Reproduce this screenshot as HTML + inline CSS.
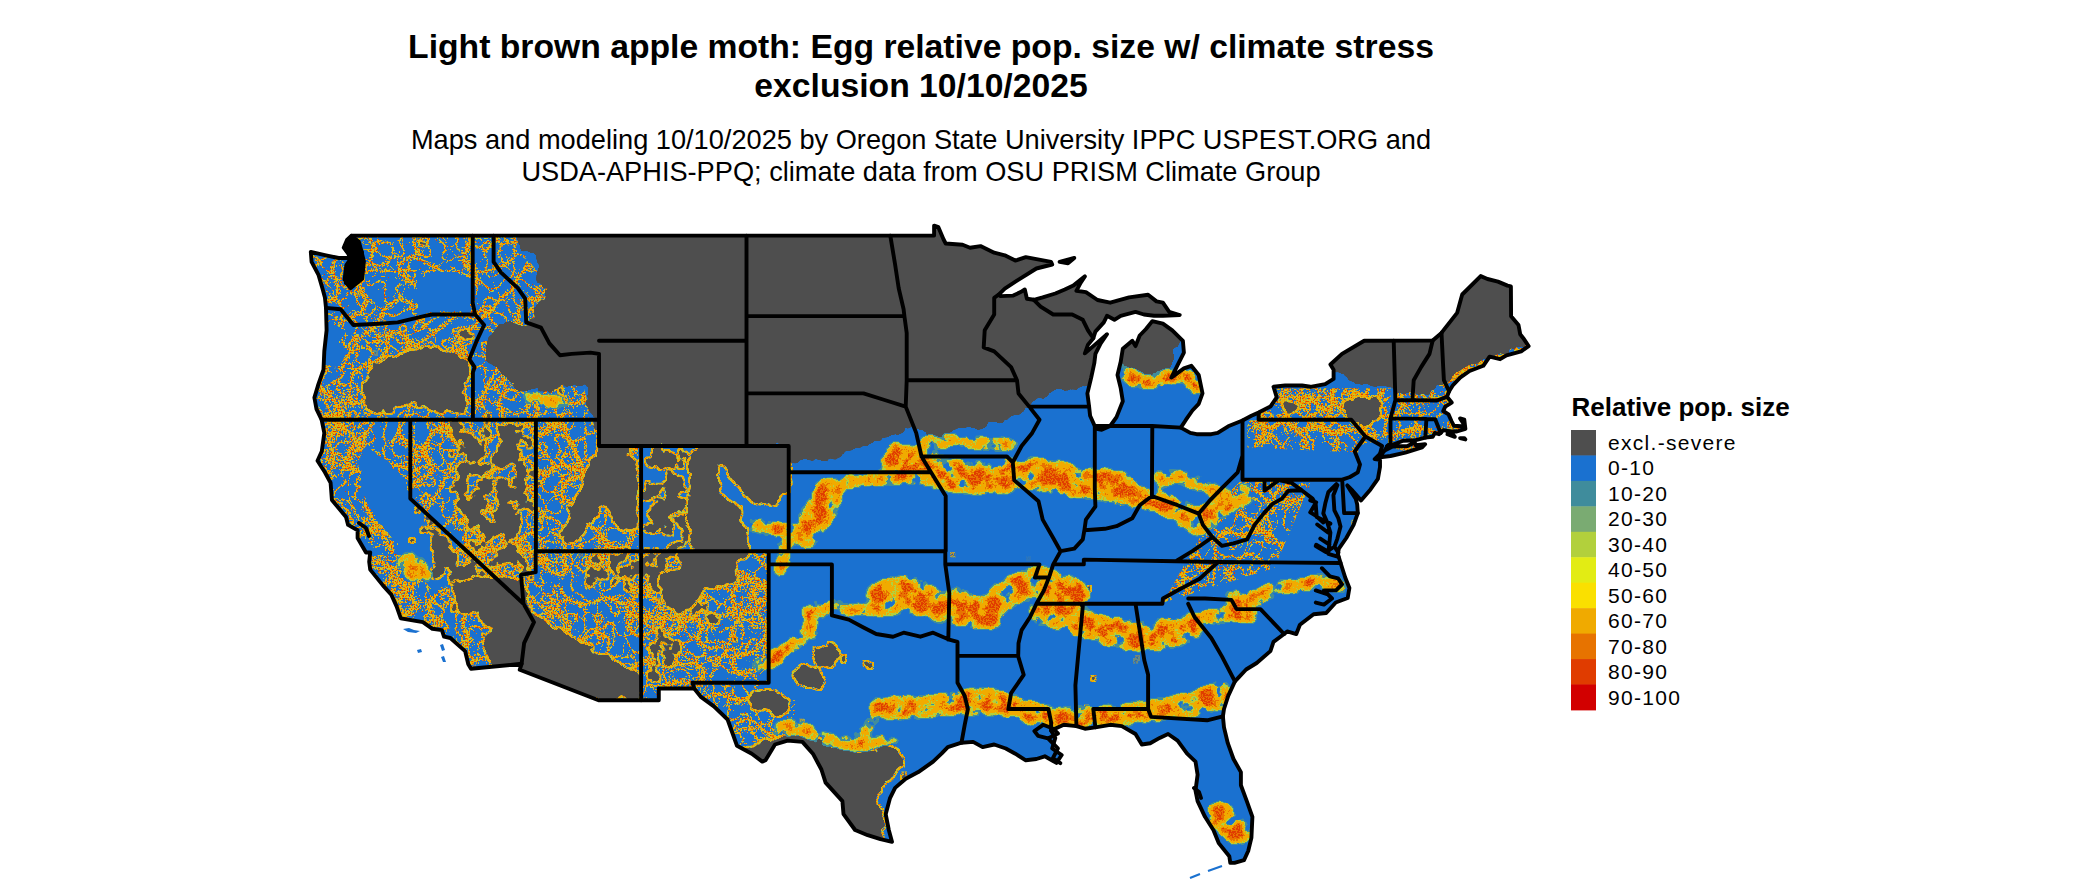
<!DOCTYPE html>
<html><head><meta charset="utf-8"><style>
html,body{margin:0;padding:0;background:#fff;width:2100px;height:892px;overflow:hidden}
svg{position:absolute;left:0;top:0}
text{font-family:"Liberation Sans",sans-serif;fill:#000}
.t{font-weight:bold;font-size:33.7px}
.s{font-size:27.2px}
.lt{font-weight:bold;font-size:26px}
.lg{font-size:21px;letter-spacing:1.3px}
</style></head><body>
<svg width="2100" height="892" viewBox="0 0 2100 892">
<text x="921" y="57.6" text-anchor="middle" class="t">Light brown apple moth: Egg relative pop. size w/ climate stress</text>
<text x="921" y="96.7" text-anchor="middle" class="t">exclusion 10/10/2025</text>
<text x="921" y="149" text-anchor="middle" class="s">Maps and modeling 10/10/2025 by Oregon State University IPPC USPEST.ORG and</text>
<text x="921" y="181" text-anchor="middle" class="s">USDA-APHIS-PPQ; climate data from OSU PRISM Climate Group</text>
<text x="1571.5" y="416.2" class="lt">Relative pop. size</text>
<rect x="1571" y="430.00" width="25" height="25.9" fill="#4e4e4e"/><text x="1608" y="450.0" class="lg">excl.-severe</text><rect x="1571" y="455.45" width="25" height="25.9" fill="#1a71d0"/><text x="1608" y="475.4" class="lg">0-10</text><rect x="1571" y="480.90" width="25" height="25.9" fill="#3f8c9c"/><text x="1608" y="500.9" class="lg">10-20</text><rect x="1571" y="506.35" width="25" height="25.9" fill="#7aab72"/><text x="1608" y="526.4" class="lg">20-30</text><rect x="1571" y="531.80" width="25" height="25.9" fill="#b2d03c"/><text x="1608" y="551.8" class="lg">30-40</text><rect x="1571" y="557.25" width="25" height="25.9" fill="#e2ec14"/><text x="1608" y="577.2" class="lg">40-50</text><rect x="1571" y="582.70" width="25" height="25.9" fill="#fae000"/><text x="1608" y="602.7" class="lg">50-60</text><rect x="1571" y="608.15" width="25" height="25.9" fill="#f0aa00"/><text x="1608" y="628.1" class="lg">60-70</text><rect x="1571" y="633.60" width="25" height="25.9" fill="#e77300"/><text x="1608" y="653.6" class="lg">70-80</text><rect x="1571" y="659.05" width="25" height="25.9" fill="#e03c00"/><text x="1608" y="679.0" class="lg">80-90</text><rect x="1571" y="684.50" width="25" height="25.9" fill="#d20000"/><text x="1608" y="704.5" class="lg">90-100</text>
<defs>
<clipPath id="land"><path d="M352.1 235.6L934.1 235.6L934.1 225.6L938.4 227.2L943.6 239.5L945.7 243.5L962.6 244.8L970.0 247.7L980.5 246.1L994.2 252.7L1004.8 255.3L1015.3 260.6L1025.8 257.2L1051.1 261.9L1052.2 264.5L1036.4 268.5L1017.4 280.3L1004.8 288.7L998.4 294.8L1000.5 296.1L1013.2 295.6L1020.6 292.1L1024.8 289.5L1026.9 298.7L1033.8 299.8L1042.7 297.4L1055.3 293.5L1064.8 289.5L1073.3 285.6L1084.9 276.4L1080.6 282.9L1076.4 290.8L1085.9 292.1L1097.5 300.0L1110.2 302.7L1129.1 297.4L1148.1 294.8L1156.5 301.4L1162.9 302.7L1169.2 311.9L1179.7 315.0L1162.9 315.8L1154.0 315.8L1143.9 314.5L1135.5 311.9L1120.7 315.8L1114.4 319.8L1107.0 315.8L1103.8 322.4L1095.4 331.6L1093.3 338.2L1088.0 344.7L1084.9 353.4L1093.3 346.1L1107.0 334.2L1100.7 343.4L1095.4 353.9L1094.3 363.2L1091.2 377.6L1087.4 393.4L1089.1 406.6L1090.1 415.8L1094.3 425.0L1096.5 428.9L1101.7 429.7L1110.2 426.0L1116.5 417.1L1122.8 401.3L1120.7 388.1L1117.5 375.0L1120.7 361.8L1122.8 348.7L1132.3 340.8L1135.5 346.1L1139.7 335.5L1146.0 329.0L1152.3 321.1L1162.9 323.7L1172.3 330.3L1182.9 340.8L1183.9 352.6L1176.6 367.1L1171.3 377.6L1183.9 368.4L1191.3 365.8L1198.7 375.0L1202.5 393.4L1198.7 403.9L1192.4 410.5L1186.0 419.7L1180.8 427.6L1190.3 432.9L1196.6 434.2L1211.3 434.2L1217.7 432.9L1228.2 426.3L1242.5 420.5L1251.4 415.8L1258.6 412.6L1270.4 406.6L1276.7 397.3L1273.5 386.8L1285.1 385.5L1302.0 385.5L1310.4 386.8L1325.2 384.2L1333.6 378.9L1333.6 369.7L1330.4 364.5L1342.0 353.9L1364.2 340.8L1432.7 340.5L1441.5 332.9L1442.4 331.6L1457.1 312.9L1462.2 294.5L1480.7 276.1L1487.5 279.0L1498.0 281.6L1507.5 285.6L1510.9 286.4L1511.1 316.3L1518.5 325.0L1520.2 334.2L1523.3 338.2L1528.6 346.1L1521.2 351.3L1506.5 355.3L1500.1 359.2L1489.6 356.6L1483.3 365.8L1469.6 371.0L1460.1 377.6L1452.7 385.5L1449.1 391.3L1447.0 396.8L1451.7 402.6L1445.3 406.6L1443.2 411.0L1448.5 414.4L1451.7 421.5L1453.8 425.7L1461.1 426.3L1464.3 425.0L1460.1 418.4L1464.3 419.7L1465.4 428.9L1456.9 431.5L1450.6 431.5L1443.2 430.2L1440.7 432.9L1439.0 434.2L1434.8 432.9L1432.7 436.8L1425.3 437.6L1415.8 440.2L1403.2 440.7L1392.6 444.7L1387.1 446.5L1384.2 451.3L1380.0 453.9L1374.7 459.1L1380.0 459.9L1380.0 467.0L1377.9 478.9L1370.5 489.4L1361.0 500.4L1352.6 490.7L1347.3 485.4L1350.5 490.7L1355.7 498.6L1357.2 504.4L1357.8 513.1L1353.6 524.9L1346.3 538.0L1338.9 548.6L1337.8 553.8L1340.6 563.0L1345.2 577.5L1349.4 588.0L1347.7 598.0L1335.7 602.5L1326.2 613.0L1313.6 614.3L1299.9 624.8L1296.3 634.0L1287.2 631.4L1284.1 634.0L1273.5 641.9L1270.4 651.1L1256.7 663.0L1246.1 669.5L1238.7 677.4L1234.9 681.4L1228.2 695.9L1224.0 709.0L1222.9 716.4L1224.0 727.4L1227.8 743.2L1233.5 759.0L1240.9 772.1L1240.9 785.3L1246.8 801.1L1252.4 816.8L1251.4 837.9L1248.2 851.0L1244.0 860.2L1234.5 862.9L1230.3 862.9L1229.3 856.3L1218.7 843.1L1213.4 830.0L1205.0 816.8L1197.6 801.1L1195.5 790.5L1197.6 774.8L1195.5 761.6L1187.1 753.7L1177.6 740.6L1168.1 734.0L1159.7 737.9L1150.2 743.2L1141.8 744.5L1135.5 734.0L1121.8 726.1L1110.2 724.8L1095.4 727.4L1084.9 728.7L1076.4 726.1L1063.8 724.8L1051.1 730.6L1055.3 737.9L1052.2 748.5L1061.7 755.0L1056.4 762.9L1044.8 756.3L1036.4 759.0L1025.8 760.3L1015.3 753.7L1005.8 748.5L994.2 744.5L982.6 747.1L973.1 741.9L961.5 742.7L947.8 747.1L941.5 753.7L933.1 761.6L918.3 772.1L905.7 778.7L895.1 787.9L889.9 798.4L885.7 814.2L888.8 830.0L892.0 841.8L880.4 839.2L867.7 835.2L855.1 830.0L843.5 814.2L842.4 801.1L825.6 782.6L821.4 769.5L812.9 753.7L802.4 741.9L787.6 740.6L775.0 744.5L765.5 760.3L762.3 761.6L751.8 753.7L737.0 745.8L732.8 734.0L727.6 719.5L713.9 706.4L701.2 697.2L694.2 688.5L658.8 688.5L658.8 700.3L598.5 700.3L519.7 669.8L521.6 663.8L471.0 668.8L468.3 664.3L465.1 651.1L457.7 644.6L450.4 638.0L444.0 636.7L441.9 630.1L432.4 628.8L422.9 622.2L400.8 618.3L396.6 606.4L391.3 594.6L382.9 585.4L370.2 569.6L369.2 561.7L370.2 552.5L366.0 552.5L357.6 538.0L357.6 530.2L348.1 524.9L346.0 517.0L331.9 499.9L330.6 482.8L324.9 472.3L317.5 460.7L321.8 451.3L324.3 432.9L321.6 419.7L316.5 409.2L314.4 397.6L318.0 385.5L323.5 369.7L324.3 351.3L326.6 330.3L326.0 307.9L324.9 297.4L322.4 288.2L318.6 275.1L311.6 261.9L310.8 251.9L326.0 255.3L338.6 258.0L348.1 258.0L352.3 247.4L350.2 238.2ZM1380.0 457.3L1390.5 456.0L1405.3 452.6L1422.1 447.3L1425.1 444.2L1415.8 445.2L1414.8 442.6L1407.4 446.0L1392.6 446.5L1384.2 450.7ZM1447.4 434.2L1454.8 436.8L1452.7 434.2ZM1460.1 438.1L1465.4 439.4L1464.3 438.1ZM1059.6 261.9L1074.3 258.0L1068.0 263.2Z"/></clipPath>
<filter id="greyfx" filterUnits="userSpaceOnUse" x="0" y="0" width="2100" height="892" color-interpolation-filters="sRGB">
  <feGaussianBlur in="SourceAlpha" stdDeviation="5" result="bl"/>
  <feColorMatrix in="bl" type="matrix" values="0 0 0 1 0  0 0 0 1 0  0 0 0 1 0  0 0 0 0 1" result="d"/>
  <feTurbulence type="fractalNoise" baseFrequency="0.07" numOctaves="3" seed="21" result="n"/>
  <feColorMatrix in="n" type="matrix" values="1 0 0 0 0  1 0 0 0 0  1 0 0 0 0  0 0 0 0 1" result="n1"/>
  <feComposite in="d" in2="n1" operator="arithmetic" k1="0" k2="1" k3="1.0" k4="-0.5" result="f"/>
  <feColorMatrix in="f" type="matrix" values="0 0 0 0 0.306  0 0 0 0 0.306  0 0 0 0 0.306  40 0 0 0 -20" result="gm"/>
  <feMorphology in="gm" operator="dilate" radius="2" result="dil"/>
  <feComposite in="dil" in2="gm" operator="out" result="ring"/>
  <feTurbulence type="fractalNoise" baseFrequency="0.9" numOctaves="1" seed="13" result="h"/>
  <feColorMatrix in="h" type="matrix" values="0 0 0 0 0.70  0 0 0 0 0.82  0 0 0 0 0.24  40 0 0 0 -14" result="hy"/>
  <feColorMatrix in="h" type="matrix" values="0 0 0 0 0.94  0 0 0 0 0.67  0 0 0 0 0  40 0 0 0 -17.5" result="ho"/>
  <feColorMatrix in="h" type="matrix" values="0 0 0 0 0.91  0 0 0 0 0.45  0 0 0 0 0  40 0 0 0 -24" result="hr"/>
  <feMerge result="hm"><feMergeNode in="hy"/><feMergeNode in="ho"/><feMergeNode in="hr"/></feMerge>
  <feComposite in="hm" in2="ring" operator="in" result="rimc"/>
  <feMerge><feMergeNode in="rimc"/><feMergeNode in="gm"/></feMerge>
</filter>
<filter id="greyfxE" filterUnits="userSpaceOnUse" x="0" y="0" width="2100" height="892" color-interpolation-filters="sRGB">
  <feGaussianBlur in="SourceAlpha" stdDeviation="5" result="bl"/>
  <feColorMatrix in="bl" type="matrix" values="0 0 0 1 0  0 0 0 1 0  0 0 0 1 0  0 0 0 0 1" result="d"/>
  <feTurbulence type="fractalNoise" baseFrequency="0.07" numOctaves="3" seed="21" result="n"/>
  <feColorMatrix in="n" type="matrix" values="1 0 0 0 0  1 0 0 0 0  1 0 0 0 0  0 0 0 0 1" result="n1"/>
  <feComposite in="d" in2="n1" operator="arithmetic" k1="0" k2="1" k3="1.0" k4="-0.5" result="f"/>
  <feColorMatrix in="f" type="matrix" values="0 0 0 0 0.306  0 0 0 0 0.306  0 0 0 0 0.306  40 0 0 0 -20"/>
</filter>
<filter id="bandfx" filterUnits="userSpaceOnUse" x="0" y="0" width="2100" height="892" color-interpolation-filters="sRGB">
  <feGaussianBlur in="SourceAlpha" stdDeviation="5" result="bl"/>
  <feColorMatrix in="bl" type="matrix" values="0 0 0 1.08 -0.08  0 0 0 1.08 -0.08  0 0 0 1.08 -0.08  0 0 0 0 1" result="d"/>
  <feTurbulence type="fractalNoise" baseFrequency="0.07" numOctaves="3" seed="9" result="n"/>
  <feColorMatrix in="n" type="matrix" values="1 0 0 0 0  1 0 0 0 0  1 0 0 0 0  0 0 0 0 1" result="n1"/>
  <feComposite in="d" in2="n1" operator="arithmetic" k1="2.3" k2="-0.35" k3="0" k4="0" result="f"/>
  <feTurbulence type="fractalNoise" baseFrequency="0.6" numOctaves="1" seed="5" result="h"/>
  <feColorMatrix in="h" type="matrix" values="1 0 0 0 0  1 0 0 0 0  1 0 0 0 0  0 0 0 0 1" result="h1"/>
  <feComposite in="f" in2="h1" operator="arithmetic" k1="0" k2="1" k3="0.7" k4="-0.35" result="g"/>
  <feColorMatrix in="f" type="matrix" values="0 0 0 0 0.25  0 0 0 0 0.55  0 0 0 0 0.61  60 0 0 0 -13.2" result="c1"/>
  <feColorMatrix in="f" type="matrix" values="0 0 0 0 0.70  0 0 0 0 0.82  0 0 0 0 0.24  60 0 0 0 -19.2" result="c2"/>
  <feColorMatrix in="g" type="matrix" values="0 0 0 0 0.94  0 0 0 0 0.67  0 0 0 0 0  60 0 0 0 -25.2" result="c3"/>
  <feColorMatrix in="g" type="matrix" values="0 0 0 0 0.91  0 0 0 0 0.45  0 0 0 0 0  60 0 0 0 -46.8" result="c4"/>
  <feColorMatrix in="g" type="matrix" values="0 0 0 0 0.88  0 0 0 0 0.24  0 0 0 0 0  60 0 0 0 -58.8" result="c5"/>
  <feMerge><feMergeNode in="c1"/><feMergeNode in="c2"/><feMergeNode in="c3"/><feMergeNode in="c4"/><feMergeNode in="c5"/></feMerge>
</filter>
<filter id="spk" filterUnits="userSpaceOnUse" x="0" y="0" width="2100" height="892" color-interpolation-filters="sRGB">
  <feTurbulence type="turbulence" baseFrequency="0.03" numOctaves="1" seed="7" result="t"/>
  <feColorMatrix in="t" type="matrix" values="-1 0 0 0 1  -1 0 0 0 1  -1 0 0 0 1  0 0 0 0 1" result="ti"/>
  <feTurbulence type="turbulence" baseFrequency="0.07" numOctaves="1" seed="17" result="t2"/>
  <feColorMatrix in="t2" type="matrix" values="-1 0 0 0 1  -1 0 0 0 1  -1 0 0 0 1  0 0 0 0 1" result="ti2"/>
  <feBlend in="ti" in2="ti2" mode="lighten" result="tt"/>
  <feTurbulence type="fractalNoise" baseFrequency="0.55" numOctaves="1" seed="3" result="h"/>
  <feColorMatrix in="h" type="matrix" values="1 0 0 0 0  1 0 0 0 0  1 0 0 0 0  0 0 0 0 1" result="h1"/>
  <feComposite in="tt" in2="h1" operator="arithmetic" k1="0" k2="1" k3="0.35" k4="-0.175" result="g"/>
  <feColorMatrix in="g" type="matrix" values="0 0 0 0 0  0 0 0 0 0  0 0 0 0 0  60 0 0 0 -56.1" result="mask"/>
  <feTurbulence type="fractalNoise" baseFrequency="0.7" numOctaves="1" seed="23" result="h2"/>
  <feFlood flood-color="#b4cf3c" result="cy"/>
  <feColorMatrix in="h2" type="matrix" values="0 0 0 0 0.94  0 0 0 0 0.67  0 0 0 0 0  40 0 0 0 -16" result="co"/>
  <feColorMatrix in="h2" type="matrix" values="0 0 0 0 0.91  0 0 0 0 0.45  0 0 0 0 0  40 0 0 0 -22" result="cr"/>
  <feColorMatrix in="h2" type="matrix" values="0 0 0 0 0.88  0 0 0 0 0.24  0 0 0 0 0  40 0 0 0 -25" result="crr"/>
  <feMerge result="m"><feMergeNode in="cy"/><feMergeNode in="co"/><feMergeNode in="cr"/><feMergeNode in="crr"/></feMerge>
  <feComposite in="m" in2="mask" operator="in" result="mm"/>
  <feComposite in="mm" in2="SourceAlpha" operator="in"/>
</filter>
<filter id="spkD" filterUnits="userSpaceOnUse" x="0" y="0" width="2100" height="892" color-interpolation-filters="sRGB">
  <feTurbulence type="turbulence" baseFrequency="0.03" numOctaves="1" seed="8" result="t"/>
  <feColorMatrix in="t" type="matrix" values="-1 0 0 0 1  -1 0 0 0 1  -1 0 0 0 1  0 0 0 0 1" result="ti"/>
  <feTurbulence type="turbulence" baseFrequency="0.07" numOctaves="1" seed="17" result="t2"/>
  <feColorMatrix in="t2" type="matrix" values="-1 0 0 0 1  -1 0 0 0 1  -1 0 0 0 1  0 0 0 0 1" result="ti2"/>
  <feBlend in="ti" in2="ti2" mode="lighten" result="tt"/>
  <feTurbulence type="fractalNoise" baseFrequency="0.55" numOctaves="1" seed="3" result="h"/>
  <feColorMatrix in="h" type="matrix" values="1 0 0 0 0  1 0 0 0 0  1 0 0 0 0  0 0 0 0 1" result="h1"/>
  <feComposite in="tt" in2="h1" operator="arithmetic" k1="0" k2="1" k3="0.35" k4="-0.175" result="g"/>
  <feColorMatrix in="g" type="matrix" values="0 0 0 0 0  0 0 0 0 0  0 0 0 0 0  60 0 0 0 -54.6" result="mask"/>
  <feTurbulence type="fractalNoise" baseFrequency="0.7" numOctaves="1" seed="23" result="h2"/>
  <feFlood flood-color="#b4cf3c" result="cy"/>
  <feColorMatrix in="h2" type="matrix" values="0 0 0 0 0.94  0 0 0 0 0.67  0 0 0 0 0  40 0 0 0 -16" result="co"/>
  <feColorMatrix in="h2" type="matrix" values="0 0 0 0 0.91  0 0 0 0 0.45  0 0 0 0 0  40 0 0 0 -22" result="cr"/>
  <feColorMatrix in="h2" type="matrix" values="0 0 0 0 0.88  0 0 0 0 0.24  0 0 0 0 0  40 0 0 0 -25" result="crr"/>
  <feMerge result="m"><feMergeNode in="cy"/><feMergeNode in="co"/><feMergeNode in="cr"/><feMergeNode in="crr"/></feMerge>
  <feComposite in="m" in2="mask" operator="in" result="mm"/>
  <feComposite in="mm" in2="SourceAlpha" operator="in"/>
</filter>
<filter id="cleanfx" filterUnits="userSpaceOnUse" x="0" y="0" width="2100" height="892" color-interpolation-filters="sRGB">
  <feGaussianBlur in="SourceAlpha" stdDeviation="6" result="bl"/>
  <feColorMatrix in="bl" type="matrix" values="0 0 0 1 0  0 0 0 1 0  0 0 0 1 0  0 0 0 0 1" result="d"/>
  <feTurbulence type="fractalNoise" baseFrequency="0.08" numOctaves="3" seed="31" result="n"/>
  <feColorMatrix in="n" type="matrix" values="1 0 0 0 0  1 0 0 0 0  1 0 0 0 0  0 0 0 0 1" result="n1"/>
  <feComposite in="d" in2="n1" operator="arithmetic" k1="0" k2="1" k3="1.0" k4="-0.5" result="f"/>
  <feColorMatrix in="f" type="matrix" values="0 0 0 0 0.102  0 0 0 0 0.443  0 0 0 0 0.816  40 0 0 0 -20"/>
</filter>
<filter id="blob" filterUnits="userSpaceOnUse" x="0" y="0" width="2100" height="892" color-interpolation-filters="sRGB">
  <feGaussianBlur in="SourceAlpha" stdDeviation="10" result="bl"/>
  <feColorMatrix in="bl" type="matrix" values="0 0 0 1 0  0 0 0 1 0  0 0 0 1 0  0 0 0 0 1" result="d"/>
  <feTurbulence type="fractalNoise" baseFrequency="0.06" numOctaves="3" seed="4" result="n"/>
  <feColorMatrix in="n" type="matrix" values="1 0 0 0 0  1 0 0 0 0  1 0 0 0 0  0 0 0 0 1" result="n1"/>
  <feComposite in="d" in2="n1" operator="arithmetic" k1="0" k2="0.6" k3="1.4" k4="-0.7" result="f"/>
  <feColorMatrix in="f" type="matrix" values="0 0 0 0 0.306  0 0 0 0 0.306  0 0 0 0 0.306  40 0 0 0 -20" result="gm"/>
  <feMorphology in="gm" operator="dilate" radius="2" result="dil"/>
  <feComposite in="dil" in2="gm" operator="out" result="ring"/>
  <feTurbulence type="fractalNoise" baseFrequency="0.9" numOctaves="1" seed="13" result="h"/>
  <feColorMatrix in="h" type="matrix" values="0 0 0 0 0.70  0 0 0 0 0.82  0 0 0 0 0.24  40 0 0 0 -14" result="hy"/>
  <feColorMatrix in="h" type="matrix" values="0 0 0 0 0.94  0 0 0 0 0.67  0 0 0 0 0  40 0 0 0 -17.5" result="ho"/>
  <feColorMatrix in="h" type="matrix" values="0 0 0 0 0.91  0 0 0 0 0.45  0 0 0 0 0  40 0 0 0 -24" result="hr"/>
  <feMerge result="hm"><feMergeNode in="hy"/><feMergeNode in="ho"/><feMergeNode in="hr"/></feMerge>
  <feComposite in="hm" in2="ring" operator="in" result="rimc"/>
  <feMerge><feMergeNode in="rimc"/><feMergeNode in="gm"/></feMerge>
</filter>
</defs>
<path d="M352.1 235.6L934.1 235.6L934.1 225.6L938.4 227.2L943.6 239.5L945.7 243.5L962.6 244.8L970.0 247.7L980.5 246.1L994.2 252.7L1004.8 255.3L1015.3 260.6L1025.8 257.2L1051.1 261.9L1052.2 264.5L1036.4 268.5L1017.4 280.3L1004.8 288.7L998.4 294.8L1000.5 296.1L1013.2 295.6L1020.6 292.1L1024.8 289.5L1026.9 298.7L1033.8 299.8L1042.7 297.4L1055.3 293.5L1064.8 289.5L1073.3 285.6L1084.9 276.4L1080.6 282.9L1076.4 290.8L1085.9 292.1L1097.5 300.0L1110.2 302.7L1129.1 297.4L1148.1 294.8L1156.5 301.4L1162.9 302.7L1169.2 311.9L1179.7 315.0L1162.9 315.8L1154.0 315.8L1143.9 314.5L1135.5 311.9L1120.7 315.8L1114.4 319.8L1107.0 315.8L1103.8 322.4L1095.4 331.6L1093.3 338.2L1088.0 344.7L1084.9 353.4L1093.3 346.1L1107.0 334.2L1100.7 343.4L1095.4 353.9L1094.3 363.2L1091.2 377.6L1087.4 393.4L1089.1 406.6L1090.1 415.8L1094.3 425.0L1096.5 428.9L1101.7 429.7L1110.2 426.0L1116.5 417.1L1122.8 401.3L1120.7 388.1L1117.5 375.0L1120.7 361.8L1122.8 348.7L1132.3 340.8L1135.5 346.1L1139.7 335.5L1146.0 329.0L1152.3 321.1L1162.9 323.7L1172.3 330.3L1182.9 340.8L1183.9 352.6L1176.6 367.1L1171.3 377.6L1183.9 368.4L1191.3 365.8L1198.7 375.0L1202.5 393.4L1198.7 403.9L1192.4 410.5L1186.0 419.7L1180.8 427.6L1190.3 432.9L1196.6 434.2L1211.3 434.2L1217.7 432.9L1228.2 426.3L1242.5 420.5L1251.4 415.8L1258.6 412.6L1270.4 406.6L1276.7 397.3L1273.5 386.8L1285.1 385.5L1302.0 385.5L1310.4 386.8L1325.2 384.2L1333.6 378.9L1333.6 369.7L1330.4 364.5L1342.0 353.9L1364.2 340.8L1432.7 340.5L1441.5 332.9L1442.4 331.6L1457.1 312.9L1462.2 294.5L1480.7 276.1L1487.5 279.0L1498.0 281.6L1507.5 285.6L1510.9 286.4L1511.1 316.3L1518.5 325.0L1520.2 334.2L1523.3 338.2L1528.6 346.1L1521.2 351.3L1506.5 355.3L1500.1 359.2L1489.6 356.6L1483.3 365.8L1469.6 371.0L1460.1 377.6L1452.7 385.5L1449.1 391.3L1447.0 396.8L1451.7 402.6L1445.3 406.6L1443.2 411.0L1448.5 414.4L1451.7 421.5L1453.8 425.7L1461.1 426.3L1464.3 425.0L1460.1 418.4L1464.3 419.7L1465.4 428.9L1456.9 431.5L1450.6 431.5L1443.2 430.2L1440.7 432.9L1439.0 434.2L1434.8 432.9L1432.7 436.8L1425.3 437.6L1415.8 440.2L1403.2 440.7L1392.6 444.7L1387.1 446.5L1384.2 451.3L1380.0 453.9L1374.7 459.1L1380.0 459.9L1380.0 467.0L1377.9 478.9L1370.5 489.4L1361.0 500.4L1352.6 490.7L1347.3 485.4L1350.5 490.7L1355.7 498.6L1357.2 504.4L1357.8 513.1L1353.6 524.9L1346.3 538.0L1338.9 548.6L1337.8 553.8L1340.6 563.0L1345.2 577.5L1349.4 588.0L1347.7 598.0L1335.7 602.5L1326.2 613.0L1313.6 614.3L1299.9 624.8L1296.3 634.0L1287.2 631.4L1284.1 634.0L1273.5 641.9L1270.4 651.1L1256.7 663.0L1246.1 669.5L1238.7 677.4L1234.9 681.4L1228.2 695.9L1224.0 709.0L1222.9 716.4L1224.0 727.4L1227.8 743.2L1233.5 759.0L1240.9 772.1L1240.9 785.3L1246.8 801.1L1252.4 816.8L1251.4 837.9L1248.2 851.0L1244.0 860.2L1234.5 862.9L1230.3 862.9L1229.3 856.3L1218.7 843.1L1213.4 830.0L1205.0 816.8L1197.6 801.1L1195.5 790.5L1197.6 774.8L1195.5 761.6L1187.1 753.7L1177.6 740.6L1168.1 734.0L1159.7 737.9L1150.2 743.2L1141.8 744.5L1135.5 734.0L1121.8 726.1L1110.2 724.8L1095.4 727.4L1084.9 728.7L1076.4 726.1L1063.8 724.8L1051.1 730.6L1055.3 737.9L1052.2 748.5L1061.7 755.0L1056.4 762.9L1044.8 756.3L1036.4 759.0L1025.8 760.3L1015.3 753.7L1005.8 748.5L994.2 744.5L982.6 747.1L973.1 741.9L961.5 742.7L947.8 747.1L941.5 753.7L933.1 761.6L918.3 772.1L905.7 778.7L895.1 787.9L889.9 798.4L885.7 814.2L888.8 830.0L892.0 841.8L880.4 839.2L867.7 835.2L855.1 830.0L843.5 814.2L842.4 801.1L825.6 782.6L821.4 769.5L812.9 753.7L802.4 741.9L787.6 740.6L775.0 744.5L765.5 760.3L762.3 761.6L751.8 753.7L737.0 745.8L732.8 734.0L727.6 719.5L713.9 706.4L701.2 697.2L694.2 688.5L658.8 688.5L658.8 700.3L598.5 700.3L519.7 669.8L521.6 663.8L471.0 668.8L468.3 664.3L465.1 651.1L457.7 644.6L450.4 638.0L444.0 636.7L441.9 630.1L432.4 628.8L422.9 622.2L400.8 618.3L396.6 606.4L391.3 594.6L382.9 585.4L370.2 569.6L369.2 561.7L370.2 552.5L366.0 552.5L357.6 538.0L357.6 530.2L348.1 524.9L346.0 517.0L331.9 499.9L330.6 482.8L324.9 472.3L317.5 460.7L321.8 451.3L324.3 432.9L321.6 419.7L316.5 409.2L314.4 397.6L318.0 385.5L323.5 369.7L324.3 351.3L326.6 330.3L326.0 307.9L324.9 297.4L322.4 288.2L318.6 275.1L311.6 261.9L310.8 251.9L326.0 255.3L338.6 258.0L348.1 258.0L352.3 247.4L350.2 238.2ZM1380.0 457.3L1390.5 456.0L1405.3 452.6L1422.1 447.3L1425.1 444.2L1415.8 445.2L1414.8 442.6L1407.4 446.0L1392.6 446.5L1384.2 450.7ZM1447.4 434.2L1454.8 436.8L1452.7 434.2ZM1460.1 438.1L1465.4 439.4L1464.3 438.1ZM1059.6 261.9L1074.3 258.0L1068.0 263.2Z" fill="#1a71d0"/>
<g clip-path="url(#land)">
 <g filter="url(#spk)" fill="#000"><path d="M300.0 215.0L517.0 215.0L517.0 235.0L522.0 252.0L560.0 300.0L598.0 440.0L640.0 445.0L640.0 551.0L769.0 551.0L769.0 700.0L795.0 700.0L795.0 880.0L300.0 880.0Z"/><path d="M1259.7 388.3L1390.4 388.3L1390.4 437.6L1350.9 447.5L1259.7 432.7Z"/><path d="M1247.3 420.3L1358.3 420.3L1358.3 452.4L1247.3 447.5Z"/><path d="M1395.3 378.4L1444.7 378.4L1449.6 398.1L1395.3 398.1Z"/><path d="M1388.0 398.2L1449.7 393.2L1462.1 432.7L1412.7 452.5L1388.0 447.5Z"/><path d="M1232.4 481.7L1311.3 481.7L1274.3 568.0L1163.3 602.5L1188.0 558.1Z"/></g>
 <g filter="url(#spkD)" fill="#000"><path d="M1259.7 388.3L1390.4 388.3L1390.4 432.7L1350.9 442.5L1259.7 427.7Z"/><path d="M1395.3 378.4L1444.7 378.4L1449.6 398.1L1395.3 398.1Z"/><path d="M1445.0 385.0L1500.0 360.0L1530.0 345.0L1530.0 330.0L1440.0 375.0Z"/></g>
 <g filter="url(#cleanfx)" fill="#000"><path d="M408.5 294.0L428.0 269.3L453.0 271.8L470.0 281.7L472.7 313.7L448.0 311.3L418.4 308.8Z"/><path d="M357.4 446.6L382.5 453.8L407.6 489.7L432.7 525.5L454.2 561.4L457.8 586.5L436.3 593.7L407.6 565.0L382.5 529.1L361.0 493.3Z"/><path d="M324.7 323.6L339.5 323.6L344.4 358.1L334.5 377.9L324.7 368.0Z"/></g>
 <g filter="url(#blob)" fill="#000"><path d="M411.2 504.0L429.1 507.6L454.2 536.3L479.3 561.4L515.2 586.5L522.4 600.9L486.5 604.4L454.2 600.9L436.3 579.3L422.0 550.6Z"/><path d="M450.6 421.5L533.1 421.5L533.1 572.2L515.2 572.2L486.5 550.6L457.8 518.4L450.6 471.7Z"/><path d="M640.7 446.6L694.5 446.6L694.5 550.6L640.7 550.6Z"/><path d="M640.7 554.2L673.0 554.2L669.4 600.9L644.3 615.2Z"/><path d="M644.3 629.6L680.2 636.7L676.6 672.6L644.3 679.8Z"/><path d="M586.9 554.2L639.0 554.2L639.0 590.1L586.9 586.5Z"/><path d="M694.5 593.7L730.4 593.7L723.2 633.1L698.1 629.6Z"/></g>
 <g filter="url(#greyfx)" fill="#000"><path d="M694.5 444.8L719.7 444.8L716.1 471.7L723.2 500.4L741.2 507.6L748.4 552.4L694.5 552.4L687.4 507.6Z"/><path d="M741.2 444.8L789.6 444.8L789.6 496.8L766.3 504.0L744.8 486.1Z"/><path d="M709.1 444.8L788.0 444.8L788.0 471.9L773.2 481.8L770.7 499.1L758.4 504.0L743.6 494.1L733.7 479.3L723.9 467.0L718.9 444.8Z"/><path d="M658.9 573.3L692.5 567.7L726.2 556.5L737.4 578.9L703.7 590.1L686.9 612.5L664.5 606.9Z"/><path d="M674.5 550.9L751.0 550.9L746.1 558.3L726.3 568.1L711.5 573.1L689.3 565.7L677.0 558.3Z"/><path d="M605.6 461.1L636.5 455.5L636.5 534.0L614.0 522.8L602.8 489.2Z"/><path d="M597.7 419.7L640.7 419.7L640.7 448.4L597.7 448.4Z"/><path d="M558.2 543.5L572.6 507.6L586.9 471.7L597.7 450.2L608.5 443.0L622.8 450.2L612.1 489.7L594.1 518.4L572.6 543.5Z"/><path d="M361.7 388.2L372.9 365.8L400.9 354.6L434.6 349.0L462.6 354.6L468.2 365.8L462.6 388.2L468.2 410.7L440.2 413.5L412.2 399.4L389.7 413.5L367.3 410.7Z"/><path d="M459.1 333.4L472.6 333.4L472.6 341.2L460.3 340.1Z"/><path d="M454.0 578.0L521.3 578.0L532.0 623.0L522.6 668.0L490.3 668.0L482.2 636.5L494.4 631.1L474.2 611.0L460.7 612.3L455.3 600.2Z"/><path d="M524.2 611.6L551.1 626.0L583.4 643.9L612.1 661.8L639.0 672.6L639.0 699.5L597.7 699.5L522.4 674.4L519.5 651.1Z"/><path d="M746.7 694.0L771.3 689.1L791.1 701.4L786.1 713.7L759.0 711.3L746.7 703.9Z"/><path d="M791.1 664.4L810.8 669.3L815.7 681.7L796.0 684.1Z"/><path d="M810.8 647.1L840.4 644.7L835.5 659.5L815.7 661.9Z"/><path d="M746.7 743.3L759.0 745.8L783.7 735.9L796.0 726.1L808.3 735.9L833.0 745.8L857.7 750.7L877.4 748.3L894.7 745.8L904.5 758.1L894.7 772.9L882.3 782.8L877.4 797.6L884.8 840.0L820.7 840.0L746.7 840.0Z"/><path d="M817.6 643.9L839.8 643.9L837.3 663.6L827.5 668.5L817.6 663.6Z"/><path d="M797.9 666.1L817.6 668.5L822.5 688.3L802.8 688.3Z"/><path d="M860.8 657.4L874.3 663.6L871.9 668.5L862.0 666.1Z"/><path d="M1343.6 403.1L1358.4 395.7L1378.2 400.6L1383.1 417.9L1368.3 425.3L1348.6 420.4Z"/><path d="M1279.5 403.1L1296.7 400.6L1299.2 410.5L1284.4 413.0Z"/></g>
 <g filter="url(#greyfxE)" fill="#000"><path d="M517.0 215.0L514.6 234.8L522.0 252.1L535.6 250.8L538.0 269.3L536.8 281.7L549.1 291.5L534.3 308.8L529.4 323.6L522.0 328.5L504.7 321.1L492.4 328.5L487.5 343.3L483.8 358.1L497.3 368.0L509.7 382.8L522.0 392.7L546.7 390.2L571.3 387.7L578.7 380.3L586.1 377.9L586.1 412.4L596.0 417.3L598.5 440.0L598.5 446.0L788.0 446.0L788.0 464.5L812.7 458.4L832.4 460.8L852.1 449.7L874.3 443.6L886.7 434.9L901.5 430.0L881.1 434.5L901.3 434.5L913.4 426.4L921.5 428.4L931.5 444.6L941.6 436.5L961.8 426.4L982.0 428.4L1002.2 422.4L1018.3 414.3L1028.4 406.2L1042.5 400.2L1050.6 390.1L1066.8 392.1L1078.9 390.1L1086.9 386.1L1119.1 366.1L1136.3 375.9L1153.6 375.9L1170.9 368.5L1178.3 334.0L1250.0 330.0L1333.7 371.0L1355.9 383.3L1378.1 388.3L1392.9 383.3L1395.3 393.2L1412.6 395.7L1439.7 388.3L1444.7 378.4L1447.3 383.4L1462.1 368.6L1486.7 358.7L1511.4 351.3L1526.2 343.9L1560.0 343.0L1560.0 215.0Z"/></g>
 <g filter="url(#bandfx)"><g fill="none" stroke="#000" stroke-linecap="round" stroke-linejoin="round"><path d="M753.8 525.4L785.2 529.9L805.4 525.4L821.1 514.2L830.0 494.0L843.5 482.8L861.4 480.5L879.4 478.3L901.8 478.3L924.2 476.1L937.7 471.6" stroke-width="11.4"/><path d="M805.4 532.1L818.8 514.2L827.8 494.0" stroke-width="28.6"/><path d="M778.5 527.6L785.2 554.5L778.5 577.0" stroke-width="9.5"/><path d="M897.3 458.1L913.0 464.8L935.4 471.6L957.8 476.1L980.3 478.3L1002.7 476.1L1025.1 473.8L1047.5 476.1L1070.0 480.5L1092.4 482.8L1120.0 487.3" stroke-width="30.5"/><path d="M924.2 442.4L957.8 440.2L991.5 444.7L1013.9 442.4" stroke-width="9.5"/><path d="M807.7 609.3L837.3 606.9L862.0 611.8L886.7 609.3L911.3 604.4L936.0 614.3" stroke-width="10.5"/><path d="M936.0 614.3L960.7 619.2L985.3 616.7L1010.0 597.0L1034.7 582.2" stroke-width="12.6"/><path d="M886.7 592.1L906.4 587.1L926.1 597.0" stroke-width="23.1"/><path d="M955.7 597.0L973.0 609.3L990.3 621.7" stroke-width="18.9"/><path d="M758.4 666.1L778.1 653.7L797.9 641.4L812.7 631.5L810.2 616.7" stroke-width="10.5"/><path d="M778.1 732.7L800.3 727.7L822.5 740.1L849.7 742.5L866.9 727.7L876.8 712.9L899.0 708.0" stroke-width="7.3"/><path d="M899.0 708.0L923.7 705.5L948.3 708.0L973.0 708.0L997.7 708.0L1022.3 712.9L1050.0 717.9" stroke-width="12.6"/><path d="M1040.0 469.3L1077.0 476.7L1114.0 491.5L1143.6 498.9L1163.3 501.4L1183.1 513.7L1197.9 523.6L1212.7 513.7L1227.5 501.4L1242.3 494.0" stroke-width="21.0"/><path d="M1158.4 476.7L1188.0 479.2L1212.7 489.1" stroke-width="11.5"/><path d="M1040.0 577.9L1064.7 585.3L1079.5 592.7" stroke-width="18.9"/><path d="M880.0 594.1L904.7 599.1L929.3 604.0L954.0 611.4L978.7 613.9L993.5 604.0L1013.2 589.2L1028.0 584.3L1042.8 579.3L1062.5 589.2L1077.3 594.1" stroke-width="25.2"/><path d="M1042.8 611.4L1067.5 618.8L1092.1 626.2L1116.8 633.6L1139.0 638.5L1163.7 636.1L1188.3 628.7" stroke-width="25.2"/><path d="M1110.0 624.7L1140.3 628.8L1170.5 626.8L1194.7 620.7L1214.9 616.7L1235.1 612.6L1251.2 614.7" stroke-width="13.7"/><path d="M1231.1 596.5L1251.2 600.5L1275.5 588.4L1301.7 584.4L1321.9 580.4L1342.0 586.4" stroke-width="12.0"/><path d="M880.0 707.6L917.0 707.6L954.0 702.7L978.7 697.7L1003.3 702.7L1028.0 712.5L1052.7 717.5L1077.3 717.5L1102.0 717.5L1126.7 715.0L1151.3 710.1L1176.0 707.6L1200.7 702.7L1225.3 697.7" stroke-width="19.9"/><path d="M1150.4 711.5L1180.6 703.4L1200.8 697.4L1221.0 689.3" stroke-width="15.4"/><path d="M1218.2 814.9L1237.9 832.1" stroke-width="25.2"/><path d="M778.7 726.1L796.0 726.1L810.8 731.0L833.0 740.9L857.7 745.8L877.4 740.9L894.7 740.9" stroke-width="8.4"/><path d="M768.9 665.6L796.0 643.4L817.0 620.0" stroke-width="8.4"/><path d="M1121.5 371.0L1136.3 380.9L1153.6 380.9L1173.3 375.9L1188.1 375.9L1198.0 388.3" stroke-width="12.6"/><path d="M529.4 397.6L546.7 402.5L566.4 400.1" stroke-width="10.5"/><path d="M408.5 563.2L420.9 573.1" stroke-width="21.0"/></g></g>
</g>
<g fill="#1a71d0"><path d="M403.0 629.0L409.0 628.0L414.0 630.0L420.0 631.0L416.0 633.0L408.0 632.0Z"/><path d="M417.0 650.0L421.0 649.0L422.0 652.0L418.0 653.0Z"/><path d="M440.0 645.0L443.0 644.0L445.0 650.0L442.0 651.0Z"/><path d="M441.0 657.0L444.0 656.0L446.0 662.0L443.0 662.0Z"/></g>
<path d="M351 236 L359 241 L364 252 L362 262 L364 272 L360 281 L351 289 L344 284 L344 274 L347 264 L349 257 L343 249 L346 241Z" fill="#000"/>
<path d="M1190 878 L1200 874 M1208 871 L1222 866 M1230 862 L1246 855" stroke="#1a71d0" stroke-width="2.2" fill="none"/>
<path d="M352.1 235.6L934.1 235.6L934.1 225.6L938.4 227.2L943.6 239.5L945.7 243.5L962.6 244.8L970.0 247.7L980.5 246.1L994.2 252.7L1004.8 255.3L1015.3 260.6L1025.8 257.2L1051.1 261.9L1052.2 264.5L1036.4 268.5L1017.4 280.3L1004.8 288.7L998.4 294.8L1000.5 296.1L1013.2 295.6L1020.6 292.1L1024.8 289.5L1026.9 298.7L1033.8 299.8L1042.7 297.4L1055.3 293.5L1064.8 289.5L1073.3 285.6L1084.9 276.4L1080.6 282.9L1076.4 290.8L1085.9 292.1L1097.5 300.0L1110.2 302.7L1129.1 297.4L1148.1 294.8L1156.5 301.4L1162.9 302.7L1169.2 311.9L1179.7 315.0L1162.9 315.8L1154.0 315.8L1143.9 314.5L1135.5 311.9L1120.7 315.8L1114.4 319.8L1107.0 315.8L1103.8 322.4L1095.4 331.6L1093.3 338.2L1088.0 344.7L1084.9 353.4L1093.3 346.1L1107.0 334.2L1100.7 343.4L1095.4 353.9L1094.3 363.2L1091.2 377.6L1087.4 393.4L1089.1 406.6L1090.1 415.8L1094.3 425.0L1096.5 428.9L1101.7 429.7L1110.2 426.0L1116.5 417.1L1122.8 401.3L1120.7 388.1L1117.5 375.0L1120.7 361.8L1122.8 348.7L1132.3 340.8L1135.5 346.1L1139.7 335.5L1146.0 329.0L1152.3 321.1L1162.9 323.7L1172.3 330.3L1182.9 340.8L1183.9 352.6L1176.6 367.1L1171.3 377.6L1183.9 368.4L1191.3 365.8L1198.7 375.0L1202.5 393.4L1198.7 403.9L1192.4 410.5L1186.0 419.7L1180.8 427.6L1190.3 432.9L1196.6 434.2L1211.3 434.2L1217.7 432.9L1228.2 426.3L1242.5 420.5L1251.4 415.8L1258.6 412.6L1270.4 406.6L1276.7 397.3L1273.5 386.8L1285.1 385.5L1302.0 385.5L1310.4 386.8L1325.2 384.2L1333.6 378.9L1333.6 369.7L1330.4 364.5L1342.0 353.9L1364.2 340.8L1432.7 340.5L1441.5 332.9L1442.4 331.6L1457.1 312.9L1462.2 294.5L1480.7 276.1L1487.5 279.0L1498.0 281.6L1507.5 285.6L1510.9 286.4L1511.1 316.3L1518.5 325.0L1520.2 334.2L1523.3 338.2L1528.6 346.1L1521.2 351.3L1506.5 355.3L1500.1 359.2L1489.6 356.6L1483.3 365.8L1469.6 371.0L1460.1 377.6L1452.7 385.5L1449.1 391.3L1447.0 396.8L1451.7 402.6L1445.3 406.6L1443.2 411.0L1448.5 414.4L1451.7 421.5L1453.8 425.7L1461.1 426.3L1464.3 425.0L1460.1 418.4L1464.3 419.7L1465.4 428.9L1456.9 431.5L1450.6 431.5L1443.2 430.2L1440.7 432.9L1439.0 434.2L1434.8 432.9L1432.7 436.8L1425.3 437.6L1415.8 440.2L1403.2 440.7L1392.6 444.7L1387.1 446.5L1384.2 451.3L1380.0 453.9L1374.7 459.1L1380.0 459.9L1380.0 467.0L1377.9 478.9L1370.5 489.4L1361.0 500.4L1352.6 490.7L1347.3 485.4L1350.5 490.7L1355.7 498.6L1357.2 504.4L1357.8 513.1L1353.6 524.9L1346.3 538.0L1338.9 548.6L1337.8 553.8L1340.6 563.0L1345.2 577.5L1349.4 588.0L1347.7 598.0L1335.7 602.5L1326.2 613.0L1313.6 614.3L1299.9 624.8L1296.3 634.0L1287.2 631.4L1284.1 634.0L1273.5 641.9L1270.4 651.1L1256.7 663.0L1246.1 669.5L1238.7 677.4L1234.9 681.4L1228.2 695.9L1224.0 709.0L1222.9 716.4L1224.0 727.4L1227.8 743.2L1233.5 759.0L1240.9 772.1L1240.9 785.3L1246.8 801.1L1252.4 816.8L1251.4 837.9L1248.2 851.0L1244.0 860.2L1234.5 862.9L1230.3 862.9L1229.3 856.3L1218.7 843.1L1213.4 830.0L1205.0 816.8L1197.6 801.1L1195.5 790.5L1197.6 774.8L1195.5 761.6L1187.1 753.7L1177.6 740.6L1168.1 734.0L1159.7 737.9L1150.2 743.2L1141.8 744.5L1135.5 734.0L1121.8 726.1L1110.2 724.8L1095.4 727.4L1084.9 728.7L1076.4 726.1L1063.8 724.8L1051.1 730.6L1055.3 737.9L1052.2 748.5L1061.7 755.0L1056.4 762.9L1044.8 756.3L1036.4 759.0L1025.8 760.3L1015.3 753.7L1005.8 748.5L994.2 744.5L982.6 747.1L973.1 741.9L961.5 742.7L947.8 747.1L941.5 753.7L933.1 761.6L918.3 772.1L905.7 778.7L895.1 787.9L889.9 798.4L885.7 814.2L888.8 830.0L892.0 841.8L880.4 839.2L867.7 835.2L855.1 830.0L843.5 814.2L842.4 801.1L825.6 782.6L821.4 769.5L812.9 753.7L802.4 741.9L787.6 740.6L775.0 744.5L765.5 760.3L762.3 761.6L751.8 753.7L737.0 745.8L732.8 734.0L727.6 719.5L713.9 706.4L701.2 697.2L694.2 688.5L658.8 688.5L658.8 700.3L598.5 700.3L519.7 669.8L521.6 663.8L471.0 668.8L468.3 664.3L465.1 651.1L457.7 644.6L450.4 638.0L444.0 636.7L441.9 630.1L432.4 628.8L422.9 622.2L400.8 618.3L396.6 606.4L391.3 594.6L382.9 585.4L370.2 569.6L369.2 561.7L370.2 552.5L366.0 552.5L357.6 538.0L357.6 530.2L348.1 524.9L346.0 517.0L331.9 499.9L330.6 482.8L324.9 472.3L317.5 460.7L321.8 451.3L324.3 432.9L321.6 419.7L316.5 409.2L314.4 397.6L318.0 385.5L323.5 369.7L324.3 351.3L326.6 330.3L326.0 307.9L324.9 297.4L322.4 288.2L318.6 275.1L311.6 261.9L310.8 251.9L326.0 255.3L338.6 258.0L348.1 258.0L352.3 247.4L350.2 238.2ZM1380.0 457.3L1390.5 456.0L1405.3 452.6L1422.1 447.3L1425.1 444.2L1415.8 445.2L1414.8 442.6L1407.4 446.0L1392.6 446.5L1384.2 450.7ZM1447.4 434.2L1454.8 436.8L1452.7 434.2ZM1460.1 438.1L1465.4 439.4L1464.3 438.1ZM1059.6 261.9L1074.3 258.0L1068.0 263.2Z" fill="none" stroke="#000" stroke-width="3.9" stroke-linejoin="round"/>
<path d="M326.0 307.9L340.7 309.2L353.4 325.0L378.7 323.7L397.7 322.4L425.1 315.8L431.8 314.5L475.2 314.5L472.7 303.2L472.7 235.6M475.2 314.5L484.1 325.0L476.7 340.8L469.3 359.2L474.6 367.1L472.9 372.4L472.9 419.7M321.6 419.7L599.0 419.7M410.3 419.7L410.3 498.6L523.5 603.8L534.0 622.2L524.1 643.2L521.6 663.8M523.5 603.8L521.0 574.9L535.7 572.2L535.7 551.2M535.9 419.7L535.9 551.2L641.1 551.2M493.6 235.6L493.6 261.9L500.9 272.4L517.8 288.2L525.2 298.7L526.2 322.4L541.0 327.6L549.4 343.4L560.0 355.3L571.6 353.9L590.5 352.6L599.0 353.9M599.0 353.9L599.0 446.0L746.5 446.0M599.0 340.8L746.5 340.8M746.5 235.6L746.5 446.0M641.1 446.0L641.1 700.3M788.7 446.0L788.7 551.2M641.1 551.2L945.3 551.2M768.7 551.2L768.7 682.7L692.4 682.7L694.2 688.5M768.7 564.4L831.9 564.4L831.9 615.4L848.8 619.6L863.5 627.5L876.2 634.0L893.0 636.7L903.6 632.7L920.4 636.7L933.1 632.7L948.3 639.3L957.5 641.9L957.5 682.7L964.7 695.9L967.9 709.0L964.7 724.8L961.5 742.7M945.3 551.2L945.3 564.4L949.3 593.3L948.3 639.6M788.7 472.3L931.0 472.3M746.5 446.0L788.7 446.0L788.7 472.3M746.5 393.4L863.5 393.4L884.6 400.0L905.7 406.6M906.7 380.2L905.7 406.6L916.2 432.9L921.5 456.5L931.0 472.3L945.7 496.0L945.7 551.2M746.5 316.1L904.4 316.1M890.3 235.6L895.1 264.5L898.7 288.2L903.6 309.2L904.4 316.1L906.7 332.9L906.7 380.2M906.7 380.2L1017.0 380.2M1017.0 380.2L1011.1 367.1L994.2 351.3L983.7 347.4L984.7 330.3L994.2 314.5L994.2 297.9L998.4 294.8M921.5 456.5L1006.9 456.5L1012.8 462.3M1012.8 462.3L1021.6 446.0L1032.2 432.9L1039.5 419.7L1029.2 406.6L1018.5 393.4L1017.0 380.2M1029.2 406.6L1089.1 406.6M1093.3 338.2L1088.0 330.3L1082.8 319.8L1072.2 314.5L1053.2 314.5L1040.6 306.6L1033.8 299.8M945.3 564.4L1039.5 564.4L1034.9 577.5L1049.0 577.5M1012.8 462.3L1014.2 480.2L1038.5 501.2L1042.7 519.6L1053.2 538.0L1060.6 551.2L1053.2 564.4L1049.0 577.5L1043.8 590.6L1036.4 603.8L1030.1 617.0L1021.6 630.1L1018.5 643.2L1018.2 656.4L1023.7 674.8L1011.1 693.2L1008.3 709.0M1094.8 426.0L1094.8 489.4L1095.4 506.5L1085.9 519.6L1084.4 530.2M1084.4 530.2L1082.8 539.4L1074.3 548.6L1060.6 551.2M1094.8 426.0L1152.3 426.0L1180.8 427.6M1152.3 426.0L1151.9 496.0M1084.4 530.2L1104.9 528.8L1116.5 526.2L1132.3 518.3L1139.7 505.2L1151.9 496.0L1177.6 505.2L1198.7 513.6L1209.2 501.2L1221.9 488.1L1237.7 472.3L1242.5 455.5M1242.5 455.5L1242.5 420.5M1242.5 455.5L1242.5 479.7L1342.2 479.7M1258.6 412.6L1258.6 419.7L1351.3 419.7L1365.4 436.5M1365.4 436.5L1354.7 451.3L1360.0 464.4L1357.8 472.3L1350.0 477.0M1342.2 479.7L1350.0 477.0L1342.2 479.7L1344.1 513.1L1357.8 513.1M1365.4 436.5L1382.1 446.0L1380.0 453.9M1387.1 446.0L1390.5 443.4L1390.5 418.4L1395.4 400.0L1393.7 340.8M1412.4 400.5L1413.7 380.2L1421.1 367.1L1429.5 353.9L1432.7 340.5M1395.4 400.0L1436.9 400.5L1447.0 396.8M1449.1 391.3L1443.9 380.2L1443.2 367.1L1441.5 332.9M1390.5 418.4L1426.4 418.9L1425.3 437.6M1426.4 419.2L1435.2 419.2L1440.7 432.9M1053.2 564.4L1083.8 564.4L1083.8 559.6L1175.9 561.2M1175.9 561.2L1192.4 551.2L1211.3 538.0L1212.0 536.7L1202.9 524.9L1198.7 513.6M1175.9 561.2L1218.1 562.0L1340.6 563.0M1218.1 562.0L1199.7 578.8L1179.7 589.3L1162.9 598.5L1162.4 603.8M1162.4 603.8L1036.4 603.8M1212.0 536.7L1221.9 545.9L1233.5 543.3L1247.2 539.4L1254.6 524.9L1264.0 513.1L1272.5 503.9L1282.0 498.6L1288.3 490.7L1301.6 490.2M1301.6 490.2L1291.4 482.8L1278.8 480.2L1264.5 490.7L1264.5 479.7M1301.6 490.2L1312.5 498.6L1315.7 503.9L1316.7 517.0L1330.4 523.6M1188.2 598.5L1205.0 598.5L1231.4 599.9L1236.6 609.1L1260.5 609.1L1284.1 634.0M1188.2 603.8L1194.5 617.0L1211.3 638.0L1221.9 656.4L1234.9 681.4M1135.5 603.8L1144.3 660.3L1148.1 674.8L1148.1 709.0M1148.1 709.0L1151.1 716.9L1207.1 720.3L1222.9 716.4M1093.3 709.0L1148.1 709.0M1093.3 709.0L1095.4 727.4M1080.6 603.8L1082.8 606.4L1075.4 685.3L1076.4 726.1M1008.3 709.0L1048.4 709.0L1051.1 722.1L1051.1 730.6M957.5 655.9L1018.2 655.9M351.3 235.9L358.9 241.8L363.9 261.2L362.2 278.8L350.5 288.1L344.6 279.7L346.3 265.4L351.3 257.8L343.7 247.7L347.0 240.0L351.3 235.9M348.0 245.0L356.0 250.0L358.0 270.0L352.0 282.0M1336.4 484.1L1328.3 492.2L1325.3 503.3L1323.3 513.4L1327.3 522.5L1330.4 532.6L1329.4 542.7L1328.3 553.8L1338.4 556.8M1337.4 485.1L1333.4 495.2L1334.4 510.4L1338.4 518.4L1340.5 526.5L1337.4 538.6L1334.4 546.7L1338.4 552.7M1310.2 500.3L1316.2 502.3L1310.2 512.4L1315.2 515.4L1323.3 522.5M1317.2 524.5L1328.3 532.6M1320.3 538.6L1329.4 544.7M1316.2 544.7L1328.3 551.7M1321.9 568.2L1329.9 576.3L1338.0 578.3L1342.0 584.4L1336.0 590.4L1323.9 590.4L1332.0 598.5L1323.9 604.6L1315.8 602.6M1315.8 590.4L1327.9 594.5M1315.8 546.1L1325.9 552.1L1332.0 548.1M1034.4 731.0L1043.1 724.8L1052.9 728.5L1057.9 733.5L1048.0 738.4L1038.1 735.9L1034.4 731.0M1048.0 738.4L1057.9 748.3L1052.9 758.1L1060.3 763.1M359.0 523.0L366.0 528.0L369.0 536.0M1194.0 788.0L1199.0 792.0L1201.0 798.0" fill="none" stroke="#000" stroke-width="3.9" stroke-linejoin="round" stroke-linecap="round"/>
</svg>
</body></html>
